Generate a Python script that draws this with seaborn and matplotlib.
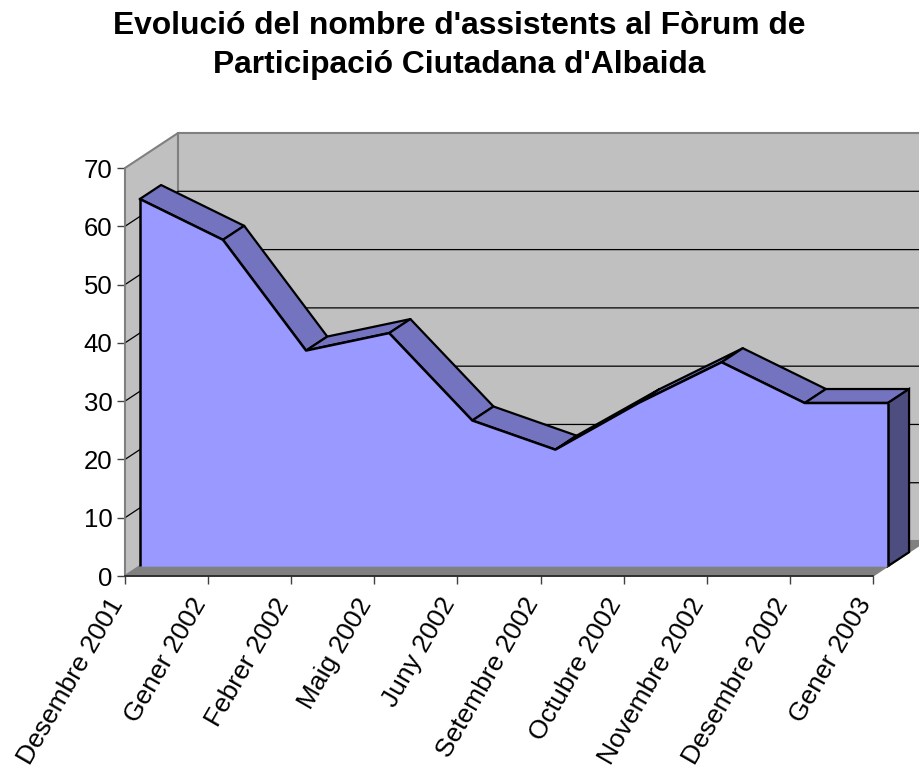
import matplotlib
matplotlib.use("Agg")
import matplotlib.pyplot as plt
from matplotlib.patches import Polygon
from matplotlib.transforms import ScaledTranslation
import numpy as np
import seaborn as sns

# ---- data ----
months = ["Desembre 2001", "Gener 2002", "Febrer 2002", "Maig 2002", "Juny 2002",
          "Setembre 2002", "Octubre 2002", "Novembre 2002", "Desembre 2002", "Gener 2003"]
attendees = [63, 56, 37, 40, 25, 20, 28, 35, 28, 28]
y_ticks = [0, 10, 20, 30, 40, 50, 60, 70]
title = "Evolució del nombre d'assistents al Fòrum de\nParticipació Ciutadana d'Albaida"

sns.set_style("ticks")
plt.rcParams['font.family'] = ['Liberation Sans', 'DejaVu Sans']
plt.rcParams['text.color'] = 'black'

fig = plt.figure(figsize=(9.19, 7.65), dpi=100)
ax = fig.add_axes([125/919, (765-576)/765, 748/919, 408/765])
n = len(months)
x = np.arange(n)
ymax = y_ticks[-1]
ax.set_xlim(0, n-1)
ax.set_ylim(0, ymax)

# oblique depth (data units)
DX, DY = 0.638, 6.0
f_front, f_back = 0.28, 0.68
WALL = '#C0C0C0'
EDGE = '#808080'
FRONT = '#9999FF'
TOP = '#7373BF'
SIDE = '#4D4D80'

# walls
ax.add_patch(Polygon([(0, 0), (DX, DY), (DX, ymax+DY), (0, ymax)], closed=True,
                     fc=WALL, ec=EDGE, lw=1.5, clip_on=False, zorder=1))
ax.add_patch(Polygon([(DX, DY), (n-1+DX, DY), (n-1+DX, ymax+DY), (DX, ymax+DY)], closed=True,
                     fc=WALL, ec=EDGE, lw=1.5, clip_on=False, zorder=1))
# gridlines
for v in y_ticks[1:-1]:
    ax.plot([0, DX, n-1+DX], [v, v+DY, v+DY], color='black', lw=0.9, clip_on=False, zorder=2)
# floor
ax.add_patch(Polygon([(0, 0), (n-1, 0), (n-1+DX, DY), (DX, DY)], closed=True,
                     fc=EDGE, ec=EDGE, lw=1, clip_on=False, zorder=2.2))

# series geometry
vals = np.array(attendees, dtype=float)
fx = x + f_front*DX
fy0 = f_front*DY
fv = vals + fy0
bx = x + f_back*DX
by0 = f_back*DY
bv = vals + by0

for i in range(n-1):
    ax.add_patch(Polygon([(fx[i], fv[i]), (fx[i+1], fv[i+1]), (bx[i+1], bv[i+1]), (bx[i], bv[i])],
                         closed=True, fc=TOP, ec='black', lw=1.6, joinstyle='round',
                         clip_on=False, zorder=3))
ax.add_patch(Polygon([(fx[-1], fy0), (fx[-1], fv[-1]), (bx[-1], bv[-1]), (bx[-1], by0)],
                     closed=True, fc=SIDE, ec='black', lw=1.6, clip_on=False, zorder=3))
ax.fill_between(fx, fy0, fv, color=FRONT, lw=0, zorder=4, clip_on=False)
sns.lineplot(x=fx, y=fv, color='black', lw=1.8, ax=ax, zorder=5, clip_on=False,
             solid_joinstyle='round')
ax.vlines([fx[0], fx[-1]], fy0, [fv[0], fv[-1]], color='black', lw=1.8, zorder=5, clip_on=False)

# axes styling
ax.set_yticks(y_ticks)
ax.set_xticks(x)
ax.set_xticklabels(months, rotation=60, ha='right', va='top', rotation_mode='anchor')
ax.tick_params(axis='y', direction='out', length=6, width=1, color='#404040',
               labelsize=18.5, pad=3, labelcolor='black')
ax.tick_params(axis='x', direction='out', length=5.8, width=1, color='#404040',
               labelsize=19, pad=7, labelcolor='black')
for lab in ax.get_xticklabels():
    lab.set_transform(lab.get_transform() + ScaledTranslation(-18/100, 0, fig.dpi_scale_trans))
ax.spines['top'].set_visible(False)
ax.spines['right'].set_visible(False)
ax.spines['left'].set_color(EDGE)
ax.spines['left'].set_linewidth(1.2)
ax.spines['bottom'].set_color('#202020')
ax.spines['bottom'].set_linewidth(1.2)
ax.spines['left'].set_zorder(6)
ax.spines['bottom'].set_zorder(6)
ax.set_xlabel("")
ax.set_ylabel("")

fig.text(0.5, 1-11/765, title, ha='center', va='top', fontsize=22.9, fontweight='bold',
         linespacing=1.38, color='black')

fig.savefig("out.png", dpi=100)
